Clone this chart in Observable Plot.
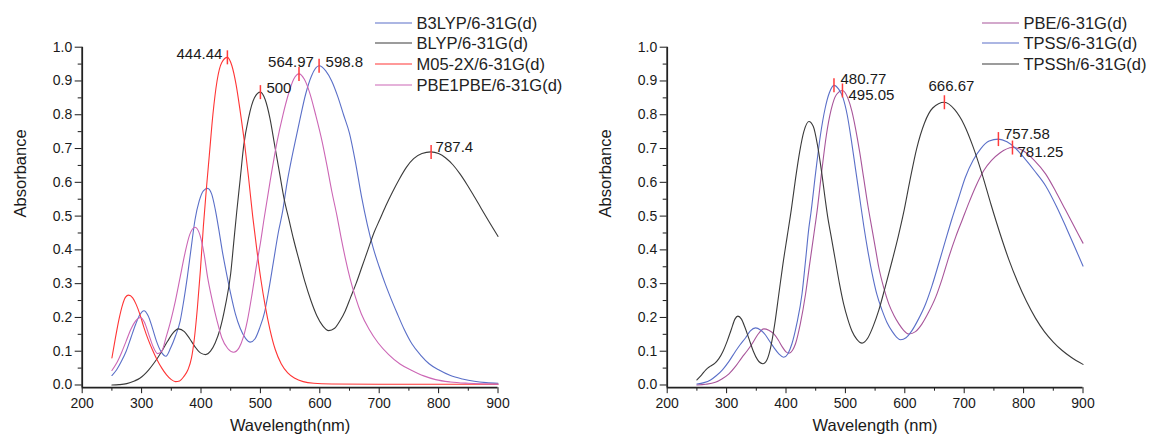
<!DOCTYPE html>
<html><head><meta charset="utf-8">
<script src="https://cdn.jsdelivr.net/npm/d3@7"></script>
<script src="https://cdn.jsdelivr.net/npm/@observablehq/plot@0.6"></script>
<style>
body{margin:0;background:#fff;font-family:"Liberation Sans",Arial,sans-serif;}
#wrap{position:relative;width:1151px;height:442px;overflow:hidden;background:#fff;}
.panel{position:absolute;top:0;}
.lg{position:absolute;white-space:nowrap;display:flex;align-items:center;height:20px;font-size:16.5px;color:#222;line-height:20px;}
.lg svg{display:block;}
</style></head><body><div id="wrap"></div>
<script>
// ---------- axis ticks ----------
const xDomain = [200, 900];
const yDomain = [-0.008, 1];
const xMajor = [200, 300, 400, 500, 600, 700, 800, 900];
const xMinor = [250, 350, 450, 550, 650, 750, 850];
const yMajor = [0, 0.1, 0.2, 0.3, 0.4, 0.5, 0.6, 0.7, 0.8, 0.9, 1.0];
const yMinor = [0.05, 0.15, 0.25, 0.35, 0.45, 0.55, 0.65, 0.75, 0.85, 0.95];

// ---------- left panel series ----------
const leftNames = ["B3LYP/6-31G(d)", "BLYP/6-31G(d)", "M05-2X/6-31G(d)", "PBE1PBE/6-31G(d)"];
const leftColors = ["#5a6fc8", "#3a3a3a", "#ff3434", "#cc66b5"];

const b3lyp = [[250,0.028],[258,0.045],[266,0.07],[274,0.1],[282,0.14],[290,0.18],[297,0.208],[304,0.22],[311,0.205],[318,0.17],[325,0.13],[333,0.098],[341,0.085],[349,0.11],[357,0.145],[365,0.19],[371,0.25],[377,0.32],[383,0.4],[390,0.49],[397,0.545],[404,0.575],[411,0.582],[418,0.565],[424,0.52],[430,0.46],[436,0.395],[443,0.33],[450,0.27],[458,0.21],[466,0.168],[475,0.138],[483,0.127],[491,0.137],[499,0.17],[507,0.215],[514,0.28],[522,0.365],[530,0.45],[537,0.51],[545,0.6],[552,0.665],[559,0.724],[567,0.79],[576,0.86],[586,0.915],[598.8,0.945],[610,0.93],[620,0.9],[630,0.855],[640,0.8],[650,0.745],[660,0.66],[670,0.56],[680,0.475],[690,0.405],[700,0.35],[710,0.3],[720,0.255],[730,0.213],[742,0.165],[755,0.122],[770,0.088],[784,0.063],[800,0.045],[820,0.028],[840,0.018],[860,0.011],[880,0.007],[900,0.005]];

const blyp = [[250,0.0],[262,0.001],[275,0.004],[288,0.012],[297,0.02],[304,0.03],[312,0.045],[320,0.063],[328,0.083],[336,0.106],[344,0.13],[352,0.152],[362,0.166],[372,0.158],[381,0.137],[390,0.113],[399,0.095],[408,0.09],[416,0.1],[424,0.125],[432,0.165],[441,0.235],[450,0.33],[455,0.42],[460,0.51],[466,0.61],[472,0.71],[480,0.79],[490,0.85],[500,0.867],[508,0.845],[516,0.79],[524,0.71],[532,0.63],[540,0.55],[548,0.49],[556,0.43],[565,0.37],[575,0.305],[585,0.25],[595,0.205],[605,0.175],[615,0.161],[625,0.168],[634,0.19],[643,0.22],[652,0.26],[661,0.3],[671,0.35],[681,0.4],[691,0.45],[701,0.49],[711,0.53],[722,0.57],[734,0.61],[746,0.645],[758,0.67],[772,0.685],[787,0.69],[800,0.685],[812,0.672],[824,0.652],[836,0.625],[848,0.593],[860,0.558],[872,0.522],[884,0.486],[900,0.44]];

const m052x = [[250,0.08],[256,0.14],[262,0.195],[268,0.238],[273,0.26],[278,0.266],[285,0.258],[291,0.238],[297,0.21],[304,0.17],[311,0.135],[318,0.105],[326,0.075],[334,0.05],[342,0.03],[350,0.016],[357,0.01],[364,0.012],[371,0.025],[378,0.045],[384,0.08],[389,0.14],[394,0.23],[399,0.34],[404,0.47],[409,0.58],[414,0.68],[420,0.8],[427,0.9],[435,0.955],[444.44,0.97],[452,0.945],[459,0.89],[466,0.81],[473,0.72],[480,0.615],[487,0.5],[494,0.4],[501,0.31],[508,0.235],[516,0.165],[525,0.105],[535,0.063],[546,0.036],[558,0.02],[572,0.01],[590,0.005],[620,0.003],[700,0.002],[900,0.002]];

const pbe1pbe = [[250,0.043],[258,0.065],[266,0.095],[274,0.13],[282,0.165],[290,0.19],[298,0.2],[305,0.185],[312,0.15],[319,0.115],[327,0.093],[334,0.1],[341,0.14],[349,0.19],[357,0.25],[365,0.32],[373,0.39],[381,0.445],[390,0.467],[398,0.445],[405,0.39],[411,0.32],[419,0.25],[427,0.19],[435,0.14],[445,0.108],[455,0.097],[464,0.11],[471,0.14],[478,0.19],[486,0.27],[494,0.36],[500,0.42],[506,0.49],[517,0.61],[528,0.72],[538,0.8],[547,0.86],[556,0.905],[564.97,0.921],[574,0.905],[583,0.865],[593,0.8],[604,0.72],[612,0.65],[620,0.575],[629,0.5],[636,0.435],[643,0.375],[651,0.315],[660,0.26],[670,0.21],[683,0.165],[698,0.125],[716,0.09],[735,0.062],[755,0.043],[775,0.027],[795,0.016],[820,0.009],[850,0.005],[900,0.002]];

const leftPeakX = [444.44, 500, 564.97, 598.8, 787.4];
const leftPeakY = [0.97, 0.867, 0.921, 0.945, 0.69];
const leftPeakText = ["444.44", "500", "564.97", "598.8", "787.4"];

// ---------- right panel series ----------
const rightNames = ["PBE/6-31G(d)", "TPSS/6-31G(d)", "TPSSh/6-31G(d)"];
const rightColors = ["#a8559a", "#5a6fc8", "#3a3a3a"];

const pbe = [[250,0.0],[265,0.002],[281,0.008],[292,0.018],[304,0.033],[315,0.055],[326,0.082],[335,0.102],[343,0.122],[352,0.148],[362.7,0.166],[371,0.162],[379.6,0.151],[387,0.133],[394,0.112],[400,0.098],[405,0.094],[411,0.103],[416,0.122],[424,0.18],[433,0.27],[440,0.36],[447,0.447],[452.5,0.517],[460,0.63],[468,0.74],[476,0.815],[485,0.86],[495.05,0.872],[504,0.85],[511,0.81],[517,0.76],[524,0.69],[531,0.61],[538,0.53],[545,0.46],[551,0.4],[556,0.35],[565,0.285],[573,0.24],[582,0.205],[590,0.181],[598,0.162],[607,0.151],[618,0.158],[629,0.181],[640,0.215],[652,0.26],[663,0.315],[674,0.378],[686,0.44],[697,0.49],[708,0.54],[720,0.59],[733,0.635],[746,0.665],[760,0.687],[781.25,0.703],[800,0.693],[818,0.665],[837,0.625],[855,0.57],[870,0.52],[885,0.47],[900,0.42]];

const tpss = [[250,0.003],[262,0.007],[273,0.015],[283,0.028],[293,0.045],[304,0.07],[315,0.1],[323,0.12],[332,0.14],[340,0.16],[348.7,0.169],[357,0.163],[365.5,0.148],[373,0.128],[380,0.11],[388,0.092],[396,0.082],[403,0.092],[410,0.122],[418,0.18],[427,0.27],[433,0.37],[438.5,0.465],[442,0.51],[450,0.63],[458,0.74],[466,0.82],[473,0.865],[480.77,0.887],[489,0.875],[496,0.85],[503,0.8],[510,0.725],[517,0.64],[524,0.555],[531,0.47],[538,0.395],[545,0.33],[553,0.268],[562,0.22],[570,0.185],[579,0.158],[586,0.142],[593,0.134],[602,0.14],[612,0.161],[623,0.195],[635,0.24],[646,0.295],[657,0.359],[668,0.425],[679,0.49],[690,0.55],[702,0.615],[715,0.665],[728,0.7],[742,0.722],[757.58,0.728],[772,0.72],[787,0.7],[802,0.67],[818,0.635],[837,0.59],[855,0.53],[872,0.465],[887,0.405],[900,0.352]];

const tpssh = [[250,0.015],[258,0.03],[265,0.045],[272,0.055],[280,0.064],[287,0.078],[294,0.1],[301,0.13],[308,0.165],[314,0.195],[319,0.204],[325,0.195],[331,0.17],[338,0.135],[345,0.1],[352,0.075],[361,0.063],[368,0.075],[374,0.11],[381,0.18],[388,0.27],[395,0.36],[402,0.44],[409,0.52],[416,0.61],[423,0.69],[430,0.75],[438.5,0.78],[446,0.765],[453,0.71],[460,0.63],[466,0.55],[470,0.5],[476,0.44],[483,0.37],[490,0.3],[497,0.24],[504,0.195],[511,0.16],[519,0.136],[528,0.124],[538,0.14],[547,0.175],[556,0.22],[567,0.29],[579,0.37],[589,0.44],[598,0.51],[608,0.6],[620,0.7],[633,0.775],[647,0.82],[666.67,0.837],[684,0.815],[700,0.77],[715,0.705],[730,0.625],[745,0.535],[760,0.45],[775,0.372],[790,0.305],[805,0.247],[820,0.198],[835,0.158],[850,0.127],[865,0.102],[880,0.082],[900,0.061]];

const rightPeakX = [480.77, 495.05, 666.67, 757.58, 781.25];
const rightPeakY = [0.887, 0.872, 0.837, 0.728, 0.703];
const rightPeakText = ["480.77", "495.05", "666.67", "757.58", "781.25"];

// ---------- drawing ----------
const FONT = "'Liberation Sans', Arial, sans-serif";
const vbar = { draw(ctx, size) { const h = Math.sqrt(size / Math.PI); ctx.moveTo(0, -h); ctx.lineTo(0, h); } };

function makePanel({names, colors, seriesPts, peakX, peakY, peakText, labelStyles, xTitle, width, marginLeft, marginRight}) {
  const rows = [];
  seriesPts.forEach((pts, i) => pts.forEach(([x, y]) => rows.push({x, y, s: names[i]})));
  const peaks = peakX.map((x, i) => ({x, y: peakY[i], t: peakText[i]}));
  const marks = [
    Plot.axisX({ticks: xMajor, tickSize: 6, tickPadding: 4, tickFormat: d => String(d), label: null, fontSize: 14}),
    Plot.axisX({ticks: xMinor, tickSize: 3.5, tickFormat: () => "", label: null}),
    Plot.axisY({ticks: yMajor, tickSize: 7, tickPadding: 3, tickFormat: d3.format(".1f"), label: null, fontSize: 14}),
    Plot.axisY({ticks: yMinor, tickSize: 4, tickFormat: () => "", label: null}),
    Plot.ruleX([xDomain[0]], {strokeWidth: 1.8, stroke: "#222"}),
    Plot.ruleY([yDomain[0]], {strokeWidth: 1.8, stroke: "#222"}),
    Plot.line(rows, {x: "x", y: "y", z: "s", stroke: "s", strokeWidth: 1.1, curve: "monotone-x"}),
    Plot.dot(peaks, {x: "x", y: "y", r: 7, symbol: vbar, stroke: "#ff3b3b", fill: "none", strokeWidth: 1.5}),
    ...labelStyles.map((st, i) => Plot.text([peaks[i]], {x: "x", y: "y", text: "t", fontSize: 15, fill: "#1a1a1a", ...st})),
    Plot.text(["Absorbance"], {frameAnchor: "left", rotate: -90, dx: -61, fontSize: 16.5, fill: "#1a1a1a"}),
    Plot.text([xTitle], {frameAnchor: "bottom", dy: 43, fontSize: 16.5, fill: "#1a1a1a"})
  ];
  return Plot.plot({
    width, height: 442, marginLeft, marginRight, marginTop: 46.7, marginBottom: 54.8,
    x: {domain: xDomain}, y: {domain: yDomain},
    color: {domain: names, range: colors},
    style: {fontFamily: FONT, fontSize: "14px", color: "#1a1a1a", background: "transparent", overflow: "visible"},
    marks
  });
}

const leftLabelStyles = [
  {textAnchor: "end", dx: -5, dy: -3.5},
  {textAnchor: "start", dx: 6, dy: -4},
  {textAnchor: "middle", dx: -8, dy: -12},
  {textAnchor: "start", dx: 6.5, dy: -4},
  {textAnchor: "start", dx: 4.5, dy: -4.5}
];
const rightLabelStyles = [
  {textAnchor: "start", dx: 6.5, dy: -6.5},
  {textAnchor: "start", dx: 6, dy: 5},
  {textAnchor: "middle", dx: 7, dy: -16},
  {textAnchor: "start", dx: 5.5, dy: -4.5},
  {textAnchor: "start", dx: 5, dy: 5}
];

const wrap = document.getElementById("wrap");
function place(node, left) { const d = document.createElement("div"); d.className = "panel"; d.style.left = left + "px"; d.appendChild(node); wrap.appendChild(d); }

place(makePanel({names: leftNames, colors: leftColors, seriesPts: [b3lyp, blyp, m052x, pbe1pbe],
  peakX: leftPeakX, peakY: leftPeakY, peakText: leftPeakText, labelStyles: leftLabelStyles,
  xTitle: "Wavelength(nm)", width: 575, marginLeft: 81.7, marginRight: 77.5}), 0);
place(makePanel({names: rightNames, colors: rightColors, seriesPts: [pbe, tpss, tpssh],
  peakX: rightPeakX, peakY: rightPeakY, peakText: rightPeakText, labelStyles: rightLabelStyles,
  xTitle: "Wavelength (nm)", width: 576, marginLeft: 91.7, marginRight: 68.5}), 575);

function legend(names, colors, left, top) {
  names.forEach((n, i) => {
    const r = document.createElement("div");
    r.className = "lg";
    r.style.left = left + "px";
    r.style.top = (top + i * 20.7 - 10) + "px";
    r.innerHTML = `<svg width="37" height="20"><line x1="0" x2="37" y1="10" y2="10" stroke="${colors[i]}" stroke-width="1.1"/></svg><span style="margin-left:4.5px">${n}</span>`;
    wrap.appendChild(r);
  });
}
legend(leftNames, leftColors, 375, 22.5);
legend(rightNames, rightColors, 982, 22.5);
</script></body></html>
